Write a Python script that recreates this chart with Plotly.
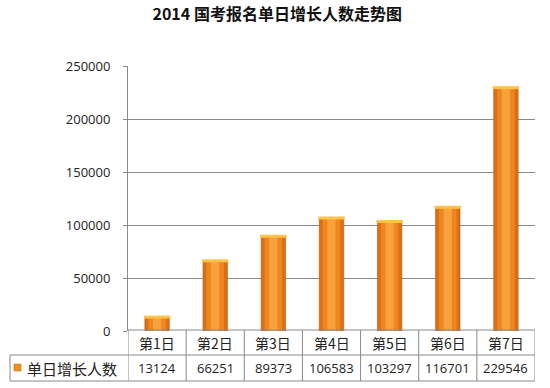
import plotly.graph_objects as go

categories = ["第1日", "第2日", "第3日", "第4日", "第5日", "第6日", "第7日"]
values = [13124, 66251, 89373, 106583, 103297, 116701, 229546]
series_name = "单日增长人数"
title_text = "2014 国考报名单日增长人数走势图"
y_ticks = [0, 50000, 100000, 150000, 200000, 250000]

W, H = 550, 388
L, R, T, B = 128, 535, 66, 331


def xp(px):
    return (px - L) / (R - L)


def yp(py):
    return (B - py) / (B - T)


CJK = "Noto Sans CJK SC"
NUM = "Open Sans"
grid_c = "#8a8a8a"

fig = go.Figure()
fig.add_trace(go.Bar(x=categories, y=values, width=0.42,
                     marker=dict(color="#DC7012", line=dict(color="#B0580E", width=0.6)),
                     showlegend=False, hoverinfo="skip"))
fig.add_trace(go.Bar(x=categories, y=values, width=0.30,
                     marker=dict(color="#F08620", line=dict(width=0)),
                     showlegend=False, hoverinfo="skip"))
fig.add_trace(go.Bar(x=categories, y=values, width=0.14,
                     marker=dict(color="#F8A23C", line=dict(width=0)),
                     showlegend=False, hoverinfo="skip"))
fig.add_trace(go.Scatter(x=categories, y=values, mode="markers",
                         marker=dict(symbol="line-ew", size=19,
                                     line=dict(color="#FFC24A", width=3)),
                         showlegend=False, hoverinfo="skip", cliponaxis=False))

shapes = []
line = dict(color=grid_c, width=1)
shapes.append(dict(type="line", xref="paper", yref="paper", x0=0, x1=1, y0=yp(330), y1=yp(330), line=line))
shapes.append(dict(type="line", xref="paper", yref="paper", x0=xp(10), x1=1, y0=yp(355), y1=yp(355), line=line))
shapes.append(dict(type="line", xref="paper", yref="paper", x0=xp(10), x1=1, y0=yp(381), y1=yp(381), line=line))
shapes.append(dict(type="line", xref="paper", yref="paper", x0=xp(10), x1=xp(10), y0=yp(355), y1=yp(381), line=line))
for i in range(len(categories) + 1):
    shapes.append(dict(type="line", xref="x", yref="paper", x0=i - 0.5, x1=i - 0.5,
                       y0=yp(330), y1=yp(381), line=line))
shapes.append(dict(type="rect", xref="paper", yref="paper", x0=xp(14), x1=xp(21),
                   y0=yp(371), y1=yp(364), fillcolor="#F0901E", line=dict(color="#C46A10", width=0.5)))

annotations = []
for c, v in zip(categories, values):
    annotations.append(dict(x=c, xref="x", y=yp(342.5), yref="paper", text=c, showarrow=False,
                            font=dict(family=CJK, size=14, color="#222"), xanchor="center", yanchor="middle"))
    annotations.append(dict(x=c, xref="x", y=yp(368), yref="paper", text=str(v), showarrow=False,
                            font=dict(family=NUM, size=13, color="#222"), xanchor="center", yanchor="middle"))
annotations.append(dict(x=xp(25), xref="paper", y=yp(368), yref="paper", text=series_name, showarrow=False,
                        font=dict(family=CJK, size=15, color="#222"), xanchor="left", yanchor="middle"))

fig.update_layout(
    width=W, height=H,
    margin=dict(l=L, r=W - R, t=T, b=H - B, pad=0),
    paper_bgcolor="white", plot_bgcolor="white",
    barmode="overlay",
    title=dict(text="<b>" + title_text + "</b>", x=0.504, xanchor="center",
               y=1 - 14.5 / H, yanchor="middle",
               font=dict(family=CJK, size=16, color="#111")),
    xaxis=dict(range=[-0.5, 6.5], showticklabels=False, showgrid=False, zeroline=False,
               showline=False, ticks=""),
    yaxis=dict(range=[0, 250000], tickvals=y_ticks, tickformat="d",
               showgrid=True, gridcolor=grid_c, gridwidth=1, zeroline=False,
               showline=True, linecolor=grid_c, linewidth=1,
               ticks="outside", ticklen=4, tickcolor=grid_c,
               ticklabelstandoff=10,
               tickfont=dict(family=NUM, size=13, color="#222")),
    shapes=shapes, annotations=annotations,
)

fig.write_html("out.html", config={"displayModeBar": False},
               post_script="document.body.style.margin='0px';")
